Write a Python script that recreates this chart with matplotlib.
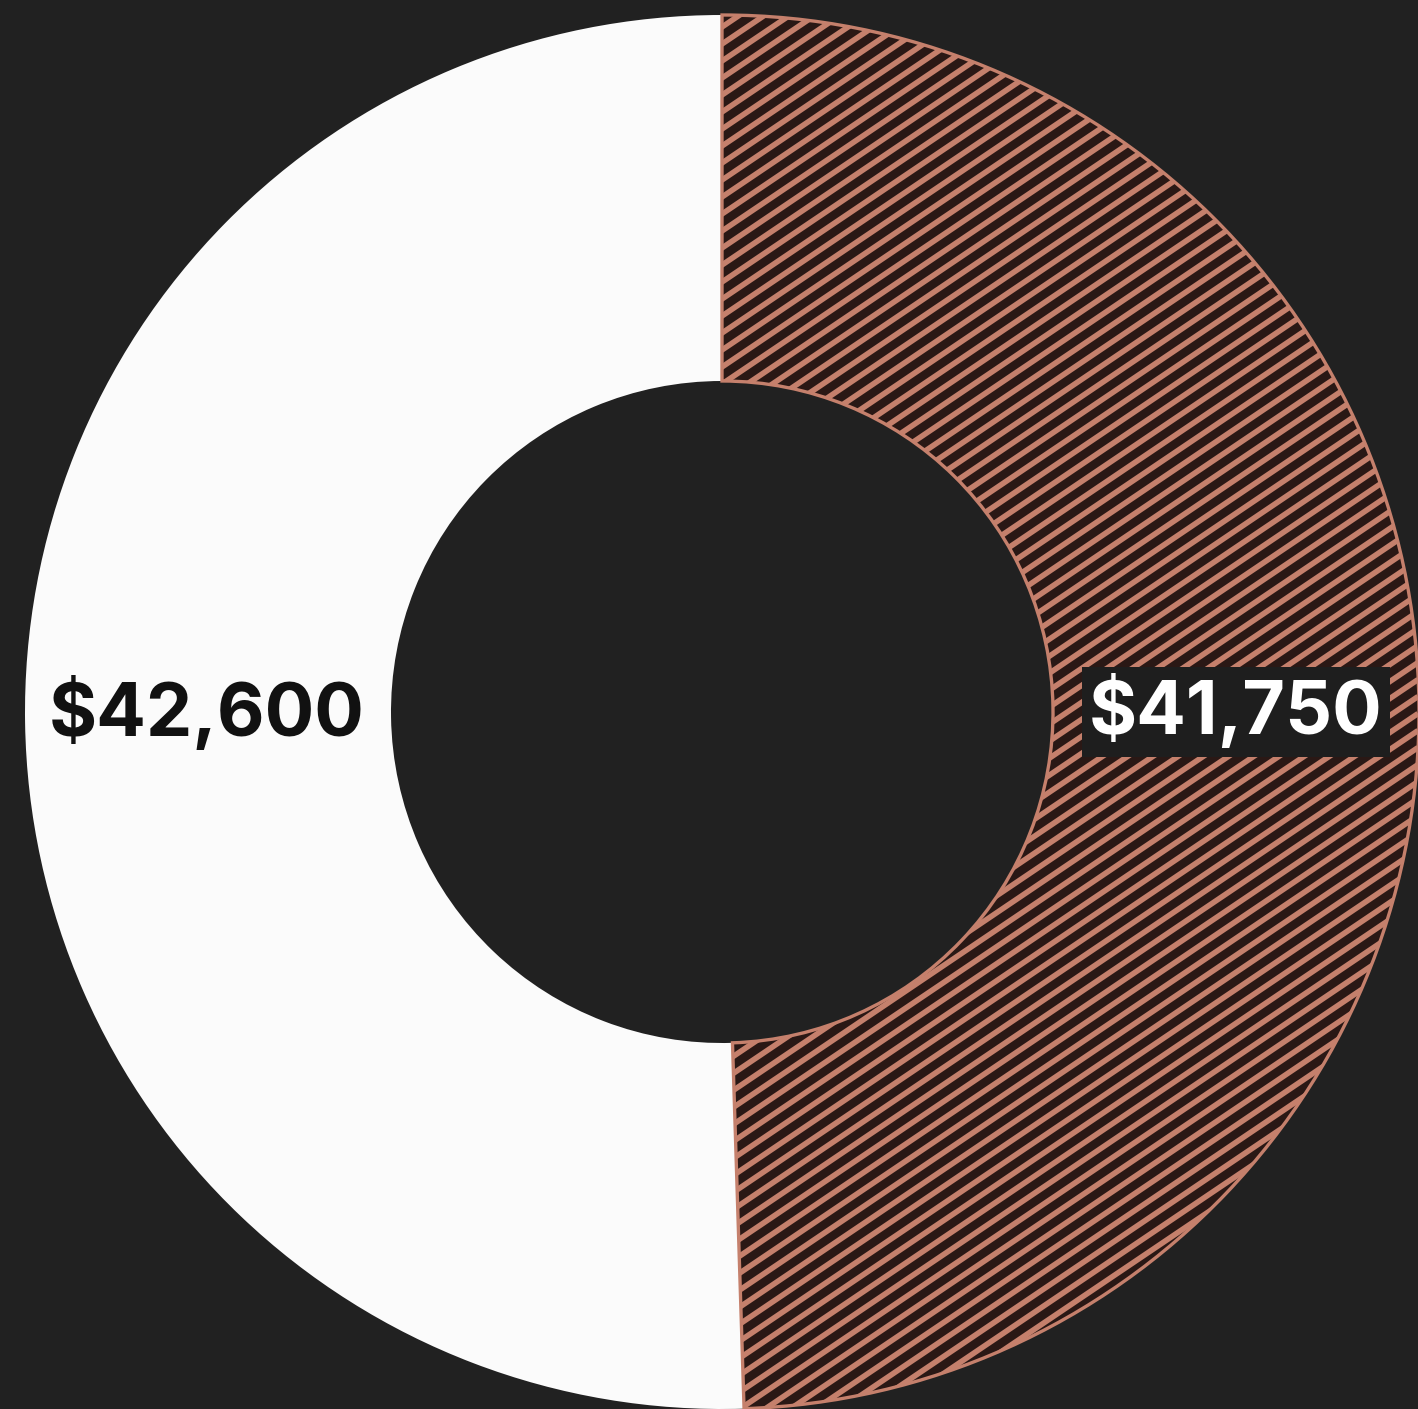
import numpy as np
import matplotlib.pyplot as plt
from matplotlib.patches import Wedge

# Data
labels = ['$41,750', '$42,600']
values = [41750, 42600]

bg = '#212121'
copper = '#c5806c'
wedge_dark = '#2a1815'
white = '#fbfbfb'

W, H = 1418, 1409
fig = plt.figure(figsize=(W / 100, H / 100), dpi=100, facecolor=bg)
ax = fig.add_axes([0, 0, 1, 1])
ax.set_facecolor(bg)

cx, cy = 722, H - 712
r_out, r_in = 697, 331

wedges, _ = ax.pie(values, startangle=90, counterclock=False,
                   center=(cx, cy), radius=r_out,
                   colors=[wedge_dark, white],
                   wedgeprops=dict(width=r_out - r_in, linewidth=0))
hw = wedges[0]
hw.set_zorder(1)

# diagonal hatch lines clipped to the hatched wedge
ang = np.deg2rad(34)
step = 17  # vertical spacing in px
for b in np.arange(-1400, 2200, step):
    xs = np.array([0, W])
    ys = b + np.tan(ang) * xs
    ln, = ax.plot(xs, ys, color=copper, lw=4.0, solid_capstyle='butt', zorder=2)
    ln.set_clip_path(hw)

# outline on top of the hatch
outline = Wedge(hw.center, hw.r, hw.theta1, hw.theta2, width=hw.width,
                fill=False, ec=copper, lw=2.4, zorder=3)
ax.add_patch(outline)

ax.set_xlim(0, W)
ax.set_ylim(0, H)
ax.set_aspect('equal')
ax.axis('off')

font = dict(family=['Inter', 'Liberation Sans'], weight='bold', size=53)
ax.text(207, H - 714, labels[1], color='#111111', ha='center', va='center',
        zorder=5, **font)
ax.text(1236, H - 712, labels[0], color='white', ha='center', va='center',
        zorder=5, bbox=dict(boxstyle='square,pad=0.1', fc='#1e1e1e', ec='none'),
        **font)

fig.savefig('out.png', dpi=100, facecolor=bg)
